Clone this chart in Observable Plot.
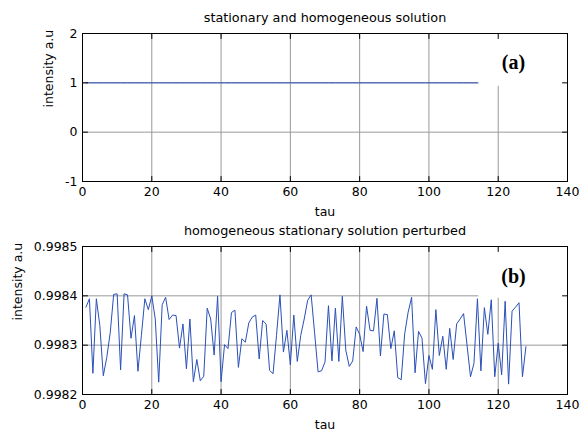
<!DOCTYPE html>
<html><head><meta charset="utf-8">
<script src="https://cdn.jsdelivr.net/npm/d3@7"></script>
<script src="https://cdn.jsdelivr.net/npm/@observablehq/plot@0.6"></script>
<style>body{margin:0;background:#fff} #chart svg{display:block}</style>
</head><body><div id="chart"></div>
<script>
// ---- data ----
const tau = d3.range(1, 129); // sample index 1..128
const solutionA = Array(128).fill(1); // stationary homogeneous solution
const solutionB = [
 0.998377,0.998394,0.998243,0.998394,0.998340,0.998238,0.998275,0.998325,0.998403,0.998404,
 0.998250,0.998404,0.998402,0.998314,0.998360,0.998247,0.998320,0.998394,0.998372,0.998400,
 0.998353,0.998225,0.998382,0.998397,0.998352,0.998361,0.998360,0.998294,0.998343,0.998252,
 0.998353,0.998226,0.998271,0.998228,0.998237,0.998375,0.998353,0.998280,0.998399,0.998226,
 0.998301,0.998293,0.998366,0.998371,0.998255,0.998313,0.998306,0.998345,0.998357,0.998361,
 0.998272,0.998350,0.998343,0.998249,0.998242,0.998320,0.998402,0.998286,0.998330,0.998260,
 0.998361,0.998267,0.998320,0.998353,0.998391,0.998402,0.998325,0.998246,0.998248,0.998266,
 0.998380,0.998268,0.998375,0.998267,0.998399,0.998290,0.998257,0.998268,0.998337,0.998322,
 0.998287,0.998379,0.998330,0.998329,0.998395,0.998278,0.998363,0.998362,0.998293,0.998329,
 0.998234,0.998230,0.998323,0.998367,0.998397,0.998244,0.998328,0.998314,0.998222,0.998279,
 0.998251,0.998372,0.998279,0.998318,0.998251,0.998334,0.998271,0.998343,0.998353,0.998364,
 0.998300,0.998236,0.998263,0.998394,0.998248,0.998376,0.998322,0.998392,0.998236,0.998304,
 0.998240,0.998389,0.998221,0.998369,0.998377,0.998386,0.998236,0.998297
];
const xTicks = [0, 20, 40, 60, 80, 100, 120, 140];
const yTicksA = [-1, 0, 1, 2];
const yTicksB = [0.9982, 0.9983, 0.9984, 0.9985];
const titles = ["stationary and homogeneous solution", "homogeneous stationary solution perturbed"];
const panelLabels = ["(a)", "(b)"];
const xLabel = "tau";
const yLabel = "intensity a.u";

// ---- drawing ----
const FONT = "'DejaVu Sans', sans-serif";
const tickShape = {draw(ctx, l) { ctx.moveTo(0, 0); ctx.lineTo(0, -l); }};

function panel({title, label, values, yDomain, yTicks, fmt, labelXY, boxX1, boxY1, yLabelDx, marginTop, marginBottom}) {
  const inward = (ticks, axis, anchor, rotate) => Plot.vector(ticks, {
    [axis]: d => d, frameAnchor: anchor, length: 5, rotate, anchor: "start",
    shape: tickShape, stroke: "#000", strokeWidth: 1
  });
  return Plot.plot({
    width: 581, height: 216,
    marginLeft: 82, marginRight: 14, marginTop, marginBottom,
    style: {fontFamily: FONT, fontSize: "12.5px", color: "#000", background: "#fff", overflow: "visible"},
    x: {domain: [0, 140]},
    y: {domain: yDomain},
    marks: [
      Plot.gridX(xTicks, {stroke: "#999", strokeOpacity: 1, strokeWidth: 1}),
      Plot.gridY(yTicks, {stroke: "#999", strokeOpacity: 1, strokeWidth: 1}),
      Plot.lineY(values, {x: (d, i) => tau[i], y: d => d, stroke: "#2a50b8", strokeWidth: 1}),
      Plot.rect([0], {x1: boxX1, x2: 140, y1: boxY1, y2: yDomain[1], fill: "#fff"}),
      Plot.text([label], {x: labelXY[0], y: labelXY[1], text: d => d, fontFamily: "'Liberation Serif', 'Times New Roman', serif",
        fontWeight: "bold", fontSize: 20, fill: "#000"}),
      Plot.frame({stroke: "#000", strokeWidth: 1}),
      inward(xTicks, "x", "bottom", 0),
      inward(xTicks, "x", "top", 180),
      inward(yTicks, "y", "left", 90),
      inward(yTicks, "y", "right", -90),
      Plot.axisX(xTicks, {tickSize: 0, tickPadding: 6, label: null, fontSize: 12.5}),
      Plot.axisY(yTicks, {tickSize: 0, tickPadding: 5, label: null, tickFormat: fmt, fontSize: 12.5}),
      Plot.text([xLabel], {frameAnchor: "bottom", dy: 30, lineAnchor: "middle", text: d => d, fontSize: 12.5}),
      Plot.text([yLabel], {frameAnchor: "left", dx: yLabelDx, rotate: -90, lineAnchor: "middle", text: d => d, fontSize: 12.5}),
      Plot.text([title], {frameAnchor: "top", dy: -16, lineAnchor: "middle", text: d => d, fontSize: 12.8})
    ]
  });
}

const chart = document.getElementById("chart");
chart.append(panel({
  title: titles[0], label: panelLabels[0], values: solutionA,
  yDomain: [-1, 2], yTicks: yTicksA, fmt: d => String(d),
  labelXY: [124.4, 1.42], boxX1: 114.4, boxY1: 0.93, yLabelDx: -34,
  marginTop: 33, marginBottom: 35
}));
chart.append(panel({
  title: titles[1], label: panelLabels[1], values: solutionB,
  yDomain: [0.9982, 0.9985], yTicks: yTicksB, fmt: d3.format(".4f"),
  labelXY: [124.4, 0.998439], boxX1: 114.4, boxY1: 0.998395, yLabelDx: -65,
  marginTop: 30, marginBottom: 38
}));
</script></body></html>
